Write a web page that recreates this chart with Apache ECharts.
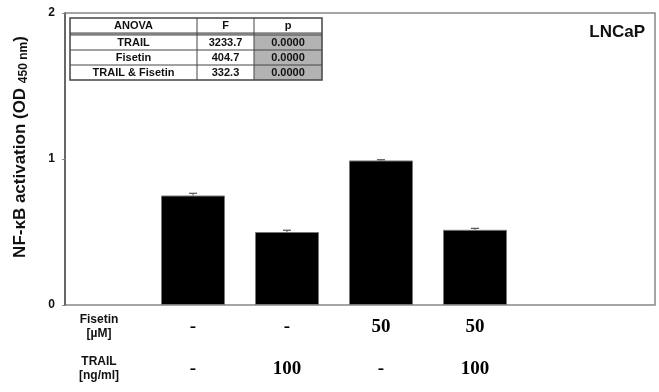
<!DOCTYPE html>
<html>
<head>
<meta charset="utf-8">
<script src="https://cdn.jsdelivr.net/npm/echarts@6/dist/echarts.min.js"></script>
<style>
html,body{margin:0;padding:0;background:#fff;}
#chart{width:659px;height:392px;}
</style>
</head>
<body>
<div id="chart"></div>
<script>
// ---- data ----
var categories = ['header', 'ctrl', 'trail', 'fisetin', 'both'];
var barValues = [null, 0.75, 0.50, 0.99, 0.515];
var errValues = [null, 0.015, 0.012, 0.005, 0.01];
var fisetinLabels = ['Fisetin\n[µM]', '-', '-', '50', '50'];
var trailLabels = ['TRAIL\n[ng/ml]', '-', '100', '-', '100'];
var yTicks = [0, 1, 2];
var anovaHeader = ['ANOVA', 'F', 'p'];
var anovaFactors = ['TRAIL', 'Fisetin', 'TRAIL & Fisetin'];
var anovaF = ['3233.7', '404.7', '332.3'];
var anovaP = ['0.0000', '0.0000', '0.0000'];
var panelTitle = 'LNCaP';

var chart = echarts.init(document.getElementById('chart'));

var sans = '"Liberation Sans", Arial, sans-serif';
var serif = '"Liberation Serif", "Times New Roman", serif';

function rowLabel(value, index, arr) {
  if (index === 0) return '{h|' + arr[0].split('\n').join('}\n{h|') + '}';
  return '{v|' + arr[index] + '}';
}
var labelRich = {
  h: {fontFamily: sans, fontWeight: 'bold', fontSize: 12, lineHeight: 14, color: '#111', align: 'center'},
  v: {fontFamily: serif, fontWeight: 'bold', fontSize: 19, color: '#000'}
};

// ANOVA table graphic
var tX = 70, tY = 18, colX = [70, 197, 254, 322], headH = 15, rowH = 15, gap = 2;
var g = [];
var tableBottom = tY + headH + gap + rowH * anovaFactors.length;
for (var i = 0; i < anovaFactors.length; i++) {
  g.push({type: 'rect', shape: {x: colX[2], y: tY + headH + gap + i * rowH, width: colX[3] - colX[2], height: rowH},
    style: {fill: '#b3b3b3'}, z: 10});
}
g.push({type: 'rect', shape: {x: tX, y: tY, width: colX[3] - tX, height: tableBottom - tY},
  style: {fill: 'none', stroke: '#444', lineWidth: 1.5}, z: 11});
g.push({type: 'rect', shape: {x: tX, y: tY + headH, width: colX[3] - tX, height: gap}, style: {fill: '#bbb'}, z: 10});
g.push({type: 'line', shape: {x1: tX, y1: tY + headH, x2: colX[3], y2: tY + headH}, style: {stroke: '#444', lineWidth: 1}, z: 11});
g.push({type: 'line', shape: {x1: tX, y1: tY + headH + gap, x2: colX[3], y2: tY + headH + gap}, style: {stroke: '#444', lineWidth: 1}, z: 11});
for (var i = 1; i < anovaFactors.length; i++) {
  var yy = tY + headH + gap + i * rowH;
  g.push({type: 'line', shape: {x1: tX, y1: yy, x2: colX[3], y2: yy}, style: {stroke: '#444', lineWidth: 1}, z: 11});
}
for (var c = 1; c < 3; c++) {
  g.push({type: 'line', shape: {x1: colX[c], y1: tY, x2: colX[c], y2: tableBottom}, style: {stroke: '#444', lineWidth: 1}, z: 11});
}
function cellText(txt, c, yc) {
  g.push({type: 'text', x: (colX[c] + colX[c + 1]) / 2, y: yc, z: 12,
    style: {text: txt, fontFamily: sans, fontWeight: 'bold', fontSize: 11, fill: '#111', align: 'center', verticalAlign: 'middle'}});
}
for (var c = 0; c < 3; c++) cellText(anovaHeader[c], c, tY + headH / 2 + 0.5);
for (var i = 0; i < anovaFactors.length; i++) {
  var yc = tY + headH + gap + i * rowH + rowH / 2 + 0.5;
  cellText(anovaFactors[i], 0, yc);
  cellText(anovaF[i], 1, yc);
  cellText(anovaP[i], 2, yc);
}
g.push({type: 'text', right: 14, top: 24, z: 12,
  style: {text: panelTitle, fontFamily: sans, fontWeight: 'bold', fontSize: 17, fill: '#111'}});

var errData = [];
for (var i = 0; i < categories.length; i++) {
  if (barValues[i] != null) errData.push([i, barValues[i], errValues[i]]);
}

chart.setOption({
  animation: false,
  backgroundColor: '#fff',
  grid: [
    {left: 65, right: 4, top: 13, bottom: 87, show: true, borderColor: '#888', borderWidth: 1.5, backgroundColor: 'transparent'},
    {left: 52, width: 470, top: 13, bottom: 87}
  ],
  xAxis: [
    {gridIndex: 0, type: 'value', show: false, min: 0, max: 1},
    {gridIndex: 1, type: 'category', data: categories, position: 'bottom',
      axisLine: {show: false}, axisTick: {show: false},
      axisLabel: {interval: 0, margin: 22, verticalAlign: 'middle', rich: labelRich,
        formatter: function (v, idx) { return rowLabel(v, idx, fisetinLabels); }}},
    {gridIndex: 1, type: 'category', data: categories, position: 'bottom', offset: 42,
      axisLine: {show: false}, axisTick: {show: false},
      axisLabel: {interval: 0, margin: 22, verticalAlign: 'middle', rich: labelRich,
        formatter: function (v, idx) { return rowLabel(v, idx, trailLabels); }}}
  ],
  yAxis: [
    {gridIndex: 0, type: 'value', min: yTicks[0], max: yTicks[yTicks.length - 1], interval: 1,
      splitLine: {show: false},
      axisLine: {show: true, lineStyle: {color: '#555', width: 1.5}},
      axisTick: {show: true, length: 3, lineStyle: {color: '#888'}},
      axisLabel: {margin: 10, fontFamily: sans, fontWeight: 'bold', fontSize: 12, color: '#111'},
      name: 'NF-κB activation (OD {sub|450 nm})',
      nameLocation: 'middle', nameGap: 35, nameRotate: 90,
      nameTextStyle: {fontFamily: sans, fontWeight: 'bold', fontSize: 17, color: '#111', padding: [0, 0, 0, 24],
        rich: {sub: {fontFamily: sans, fontWeight: 'bold', fontSize: 12, color: '#111', verticalAlign: 'bottom', padding: [7, 0, 0, 0]}}}},
    {gridIndex: 1, type: 'value', min: 0, max: 2, show: false}
  ],
  series: [
    {type: 'bar', xAxisIndex: 1, yAxisIndex: 1, data: barValues, barWidth: 64,
      itemStyle: {color: '#000', borderColor: '#777', borderWidth: 1}, z: 3},
    {type: 'custom', xAxisIndex: 1, yAxisIndex: 1, data: errData, z: 4,
      renderItem: function (params, api) {
        var x = api.value(0), v = api.value(1), e = api.value(2);
        var top = api.coord([x, v + e]);
        var base = api.coord([x, v]);
        var cap = 4;
        return {type: 'group', children: [
          {type: 'line', shape: {x1: top[0], y1: top[1], x2: base[0], y2: base[1]}, style: {stroke: '#555', lineWidth: 1}},
          {type: 'line', shape: {x1: top[0] - cap, y1: top[1], x2: top[0] + cap, y2: top[1]}, style: {stroke: '#555', lineWidth: 1.2}}
        ]};
      }}
  ],
  graphic: g
});
</script>
</body>
</html>
